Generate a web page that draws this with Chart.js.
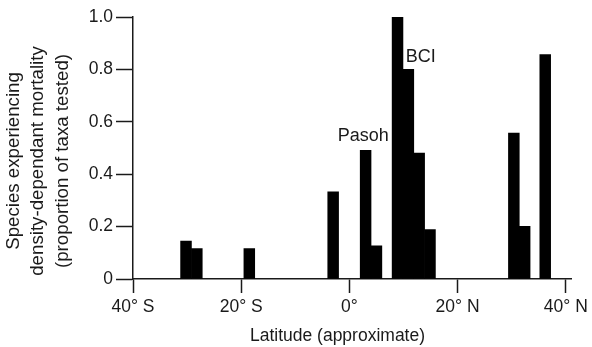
<!DOCTYPE html>
<html lang="en">
<head>
<meta charset="utf-8">
<title>Density-dependent mortality by latitude</title>
<script src="https://cdn.jsdelivr.net/npm/chart.js@4.4.0/dist/chart.umd.min.js"></script>
<style>
  body { margin: 0; background: #fff; }
  #myChart { display: block; }
</style>
</head>
<body>
<canvas id="myChart" width="592" height="347"></canvas>
<script>
// latitude of each site (deg, negative = south) and proportion of taxa
const latitude = [-30.2, -28.2, -18.5, -3, 3, 5, 8.9, 10.9, 12.9, 14.9, 30.4, 32.4, 36.2];
const proportion = [0.145, 0.116, 0.116, 0.333, 0.491, 0.127, 1.0, 0.80, 0.481, 0.189, 0.557, 0.201, 0.857];

const xTickValues = [-40, -20, 0, 20, 40];
const xTickLabels = ['40° S', '20° S', '0°', '20° N', '40° N'];
const yTickValues = [0, 0.2, 0.4, 0.6, 0.8, 1.0];
const yTickLabels = ['0', '0.2', '0.4', '0.6', '0.8', '1.0'];

const xTitle = 'Latitude (approximate)';
const yTitle = ['Species experiencing', 'density-dependant mortality', '(proportion of taxa tested)'];

// site names written next to the bars
const noteText = ['Pasoh', 'BCI'];
const noteLat = [7.3, 10.4];
const noteVal = [0.545, 0.846];
const noteAlign = ['right', 'left'];

const ink = '#1a1a1a';
const fontFamily = '"Liberation Sans", Arial, Helvetica, sans-serif';

// axis titles and site names; the titles sit a little off the axis centre as in the original
const notes = {
  id: 'notes',
  afterDatasetsDraw(chart) {
    const ctx = chart.ctx;
    const xs = chart.scales.x, ys = chart.scales.y;
    const area = chart.chartArea;
    ctx.save();
    ctx.fillStyle = ink;
    ctx.textBaseline = 'middle';
    ctx.font = '18px ' + fontFamily;
    for (let i = 0; i < noteText.length; i++) {
      ctx.textAlign = noteAlign[i];
      ctx.fillText(noteText[i], xs.getPixelForValue(noteLat[i]), ys.getPixelForValue(noteVal[i]));
    }

    ctx.textAlign = 'center';
    ctx.font = '17.5px ' + fontFamily;
    ctx.fillText(xTitle, xs.getPixelForValue(-2.2), chart.height - 10.5);

    ctx.font = '18.7px ' + fontFamily;
    ctx.translate(0, (area.top + area.bottom) / 2 + 13);
    ctx.rotate(-Math.PI / 2);
    for (let i = 0; i < yTitle.length; i++) {
      ctx.fillText(yTitle[i], 0, 14 + i * 24.3);
    }
    ctx.restore();
  }
};

const data = {
  datasets: [{
    data: latitude.map((x, i) => ({ x: x, y: proportion[i] })),
    backgroundColor: '#000',
    borderWidth: 0,
    barPercentage: 1,
    categoryPercentage: 1
  }]
};

const config = {
  type: 'bar',
  data: data,
  options: {
    responsive: false,
    animation: false,
    layout: { padding: { top: 17, right: 19, bottom: 0, left: 0 } },
    plugins: {
      legend: { display: false },
      tooltip: { enabled: false }
    },
    scales: {
      x: {
        type: 'linear',
        offset: false,
        min: -40,
        max: 41,
        afterBuildTicks: s => { s.ticks = xTickValues.map(v => ({ value: v })); },
        afterFit: s => { s.height = 68; },
        border: { color: ink, width: 1.5 },
        grid: { drawOnChartArea: false, drawTicks: true, tickLength: 14, tickColor: ink, tickWidth: 1.5, offset: false },
        ticks: {
          padding: 4,
          color: ink,
          font: { family: fontFamily, size: 17.5 },
          maxRotation: 0,
          callback: v => xTickLabels[xTickValues.indexOf(v)]
        },
        title: { display: false }
      },
      y: {
        min: 0,
        max: 1,
        afterBuildTicks: s => { s.ticks = yTickValues.map(v => ({ value: v })); },
        afterFit: s => { s.width = 133; },
        border: { color: ink, width: 1.5 },
        grid: { drawOnChartArea: false, drawTicks: true, tickLength: 17, tickColor: ink, tickWidth: 1.5 },
        ticks: {
          padding: 3,
          color: ink,
          font: { family: fontFamily, size: 17.5 },
          callback: v => yTickLabels[yTickValues.indexOf(v)]
        },
        title: { display: false }
      }
    }
  },
  plugins: [notes]
};

const myChart = new Chart(document.getElementById('myChart'), config);
</script>
</body>
</html>
